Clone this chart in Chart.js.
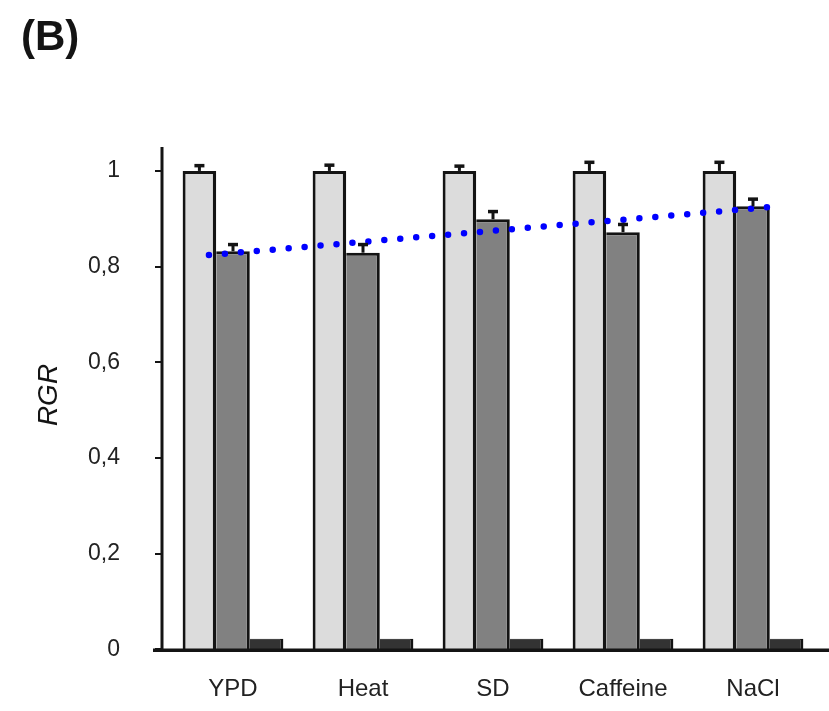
<!DOCTYPE html>
<html>
<head>
<meta charset="utf-8">
<script src="https://cdn.jsdelivr.net/npm/chart.js@4.4.1/dist/chart.umd.min.js"></script>
<style>
  html, body { margin: 0; padding: 0; background: #fff; }
  #wrap { width: 829px; height: 711px; position: relative; }
</style>
</head>
<body>
<div id="wrap"><canvas id="c" width="829" height="711"></canvas></div>
<script>
// ---- data ----
const categories = ["YPD", "Heat", "SD", "Caffeine", "NaCl"];
const lightValues = [1.0, 1.0, 1.0, 1.0, 1.0];
const lightErrors = [0.011, 0.012, 0.010, 0.018, 0.018];
const mediumValues = [0.832, 0.829, 0.899, 0.872, 0.926];
const mediumErrors = [0.014, 0.017, 0.016, 0.016, 0.015];
const darkValues = [0.022, 0.022, 0.022, 0.022, 0.022];
const trendX = [-0.185, 4.115];   // in category-index units
const trendY = [0.824, 0.924];
const yTickValues = [0, 0.2, 0.4, 0.6, 0.8, 1];
const yTickLabels = ["0", "0,2", "0,4", "0,6", "0,8", "1"];

const FONT = "'Liberation Sans', Arial, Helvetica, sans-serif";
const INK = "#141414";

const toPoints = vals => vals.map((v, i) => ({ x: i, y: v }));

const errorBarPlugin = {
  id: 'errorBars',
  afterDatasetsDraw(chart) {
    const ctx = chart.ctx;
    const ys = chart.scales.y;
    const sets = [[0, lightValues, lightErrors], [1, mediumValues, mediumErrors]];
    ctx.save();
    ctx.strokeStyle = INK;
    sets.forEach(([idx, vals, errs]) => {
      const meta = chart.getDatasetMeta(idx);
      meta.data.forEach((el, i) => {
        const yTop = ys.getPixelForValue(vals[i] + errs[i]);
        ctx.lineWidth = 3;
        ctx.beginPath();
        ctx.moveTo(el.x, el.y);
        ctx.lineTo(el.x, yTop);
        ctx.stroke();
        ctx.lineWidth = 3.5;
        ctx.beginPath();
        ctx.moveTo(el.x - 5, yTop);
        ctx.lineTo(el.x + 5, yTop);
        ctx.stroke();
      });
    });
    ctx.restore();
  }
};

const axesPlugin = {
  id: 'customAxes',
  afterDraw(chart) {
    const ctx = chart.ctx;
    const ys = chart.scales.y;
    const area = chart.chartArea;
    const axisX = area.left - 6;
    const y0 = ys.getPixelForValue(0);
    ctx.save();
    ctx.strokeStyle = INK;
    ctx.lineCap = 'butt';
    ctx.lineWidth = 3;
    ctx.beginPath();
    ctx.moveTo(axisX, area.top);
    ctx.lineTo(axisX, y0 + 1.5);
    ctx.stroke();
    ctx.lineWidth = 2;
    yTickValues.forEach(v => {
      const py = Math.round(ys.getPixelForValue(v));
      ctx.beginPath();
      ctx.moveTo(axisX - 7, py);
      ctx.lineTo(axisX, py);
      ctx.stroke();
    });
    ctx.lineWidth = 3.5;
    ctx.beginPath();
    ctx.moveTo(axisX - 9, y0 + 1);
    ctx.lineTo(chart.width, y0 + 1);
    ctx.stroke();
    ctx.fillStyle = INK;
    ctx.font = "bold 42px " + FONT;
    ctx.textBaseline = 'alphabetic';
    ctx.textAlign = 'left';
    ctx.fillText("(B)", 21, 50);
    ctx.font = "italic 28px " + FONT;
    ctx.translate(57, 395);
    ctx.rotate(-Math.PI / 2);
    ctx.textAlign = 'center';
    ctx.fillText("RGR", 0, 0);
    ctx.restore();
  }
};

new Chart(document.getElementById('c'), {
  type: 'bar',
  data: {
    datasets: [
      {
        label: 'light', data: toPoints(lightValues),
        backgroundColor: '#dcdcdc', borderColor: INK,
        borderWidth: { left: 3, top: 3, right: 3.5, bottom: 0 }, order: 2
      },
      {
        label: 'medium', data: toPoints(mediumValues),
        backgroundColor: '#818181', borderColor: INK,
        borderWidth: { left: 0, top: 3, right: 3, bottom: 0 }, order: 2
      },
      {
        label: 'dark', data: toPoints(darkValues),
        backgroundColor: '#333333', borderColor: INK,
        borderWidth: { left: 0, top: 1, right: 3, bottom: 0 }, order: 2
      },
      {
        type: 'line', label: 'trend',
        data: trendX.map((x, i) => ({ x: x, y: trendY[i] })),
        borderColor: '#0000ff', borderWidth: 6.5, borderDash: [0, 16],
        borderCapStyle: 'round', pointRadius: 0, fill: false, order: 0
      }
    ]
  },
  options: {
    responsive: false,
    animation: false,
    devicePixelRatio: 1,
    datasets: { bar: { categoryPercentage: 0.775, barPercentage: 1.0 } },
    layout: { padding: { top: 147, right: 11, left: 0, bottom: 0 } },
    plugins: { legend: { display: false }, tooltip: { enabled: false }, title: { display: false } },
    scales: {
      x: {
        type: 'linear', min: -0.5, max: 4.5, offset: false,
        grid: { display: false, drawTicks: false, offset: false },
        border: { display: false },
        afterBuildTicks(s) { s.ticks = categories.map((c, i) => ({ value: i })); },
        ticks: {
          color: '#222', font: { family: FONT, size: 24 }, padding: 26, maxRotation: 0, autoSkip: false,
          callback(v) { return categories[v] !== undefined ? categories[v] : ''; }
        },
        afterFit(s) { s.height = 55; }
      },
      y: {
        type: 'linear', min: 0, max: 1.05,
        grid: { display: false, drawTicks: false },
        border: { display: false },
        afterBuildTicks(s) { s.ticks = yTickValues.map(v => ({ value: v })); },
        ticks: {
          color: '#222', font: { family: FONT, size: 23 }, padding: 48,
          callback(v) { const i = yTickValues.indexOf(v); return i >= 0 ? yTickLabels[i] : ''; }
        },
        afterFit(s) { s.width = 168; }
      }
    }
  },
  plugins: [errorBarPlugin, axesPlugin]
});
</script>
</body>
</html>
